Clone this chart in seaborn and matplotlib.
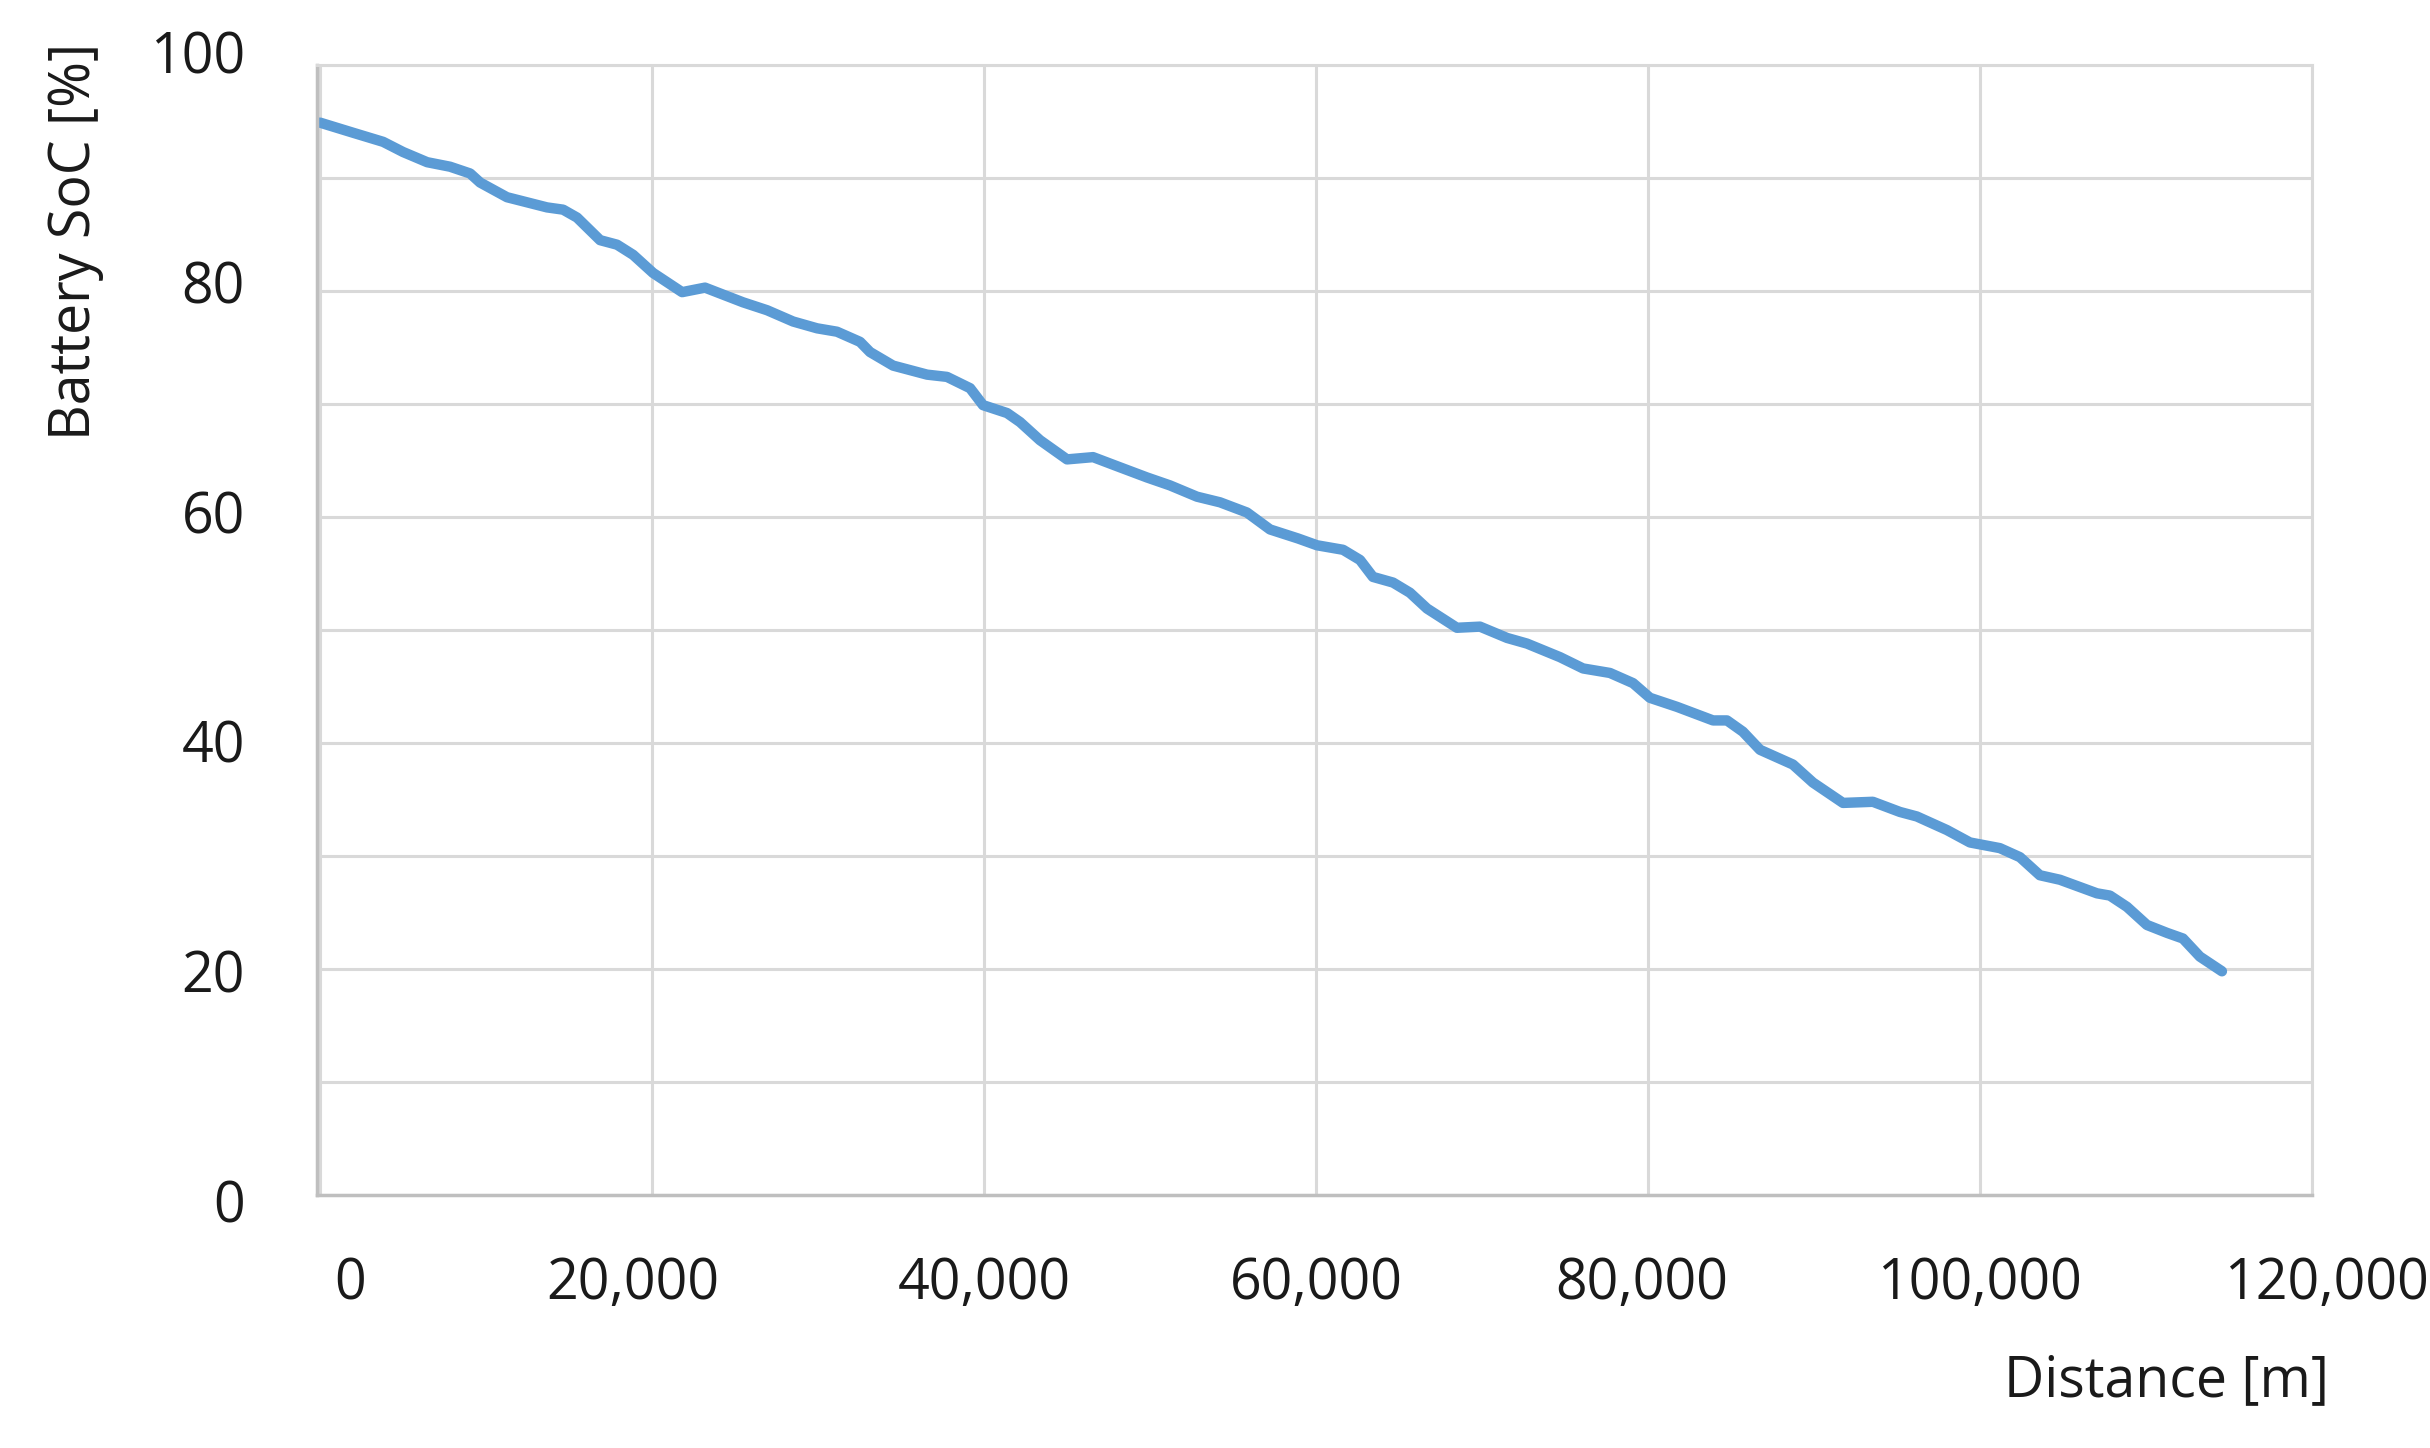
import numpy as np
import pandas as pd
import matplotlib
matplotlib.use("Agg")
import matplotlib.pyplot as plt
import seaborn as sns
from matplotlib.transforms import ScaledTranslation
from matplotlib.ticker import FuncFormatter, MultipleLocator

# Battery state of charge along the route
distance_m = [0, 2000, 3800, 5000, 6450, 7830, 9040, 9640, 11260, 13670,
              14640, 15480, 16870, 17890, 18860, 20060, 21810, 23190, 25480, 26930,
              28500, 29940, 31140, 32530, 33130, 34520, 36570, 37770, 39160, 39940,
              41390, 42170, 43370, 45000, 46570, 48190, 49820, 51200, 52830, 54220,
              55840, 57230, 58920, 60060, 61630, 62650, 63430, 64640, 65660, 66690,
              68490, 69880, 71510, 72710, 74700, 76090, 77710, 79100, 80120, 81750,
              83920, 84760, 85720, 86750, 88730, 89940, 91750, 93550, 95180, 96200,
              98010, 99400, 101200, 102410, 103610, 104820, 107050, 107830, 108860, 110060,
              111270, 112230, 113250, 114580]
soc_pct = [94.9, 94.0, 93.2, 92.3, 91.4, 91.0, 90.4, 89.6, 88.3, 87.4,
           87.2, 86.5, 84.5, 84.1, 83.2, 81.6, 79.9, 80.3, 79.0, 78.3,
           77.3, 76.7, 76.4, 75.5, 74.6, 73.4, 72.6, 72.4, 71.4, 69.9,
           69.2, 68.4, 66.8, 65.1, 65.3, 64.4, 63.5, 62.8, 61.8, 61.3,
           60.4, 58.9, 58.1, 57.5, 57.1, 56.2, 54.7, 54.2, 53.3, 51.9,
           50.2, 50.3, 49.3, 48.8, 47.6, 46.6, 46.2, 45.3, 44.0, 43.2,
           42.0, 42.0, 41.0, 39.4, 38.1, 36.5, 34.7, 34.8, 33.9, 33.5,
           32.3, 31.2, 30.7, 29.9, 28.3, 27.9, 26.7, 26.5, 25.5, 23.9,
           23.2, 22.7, 21.1, 19.8]

x_ticks = [0, 20000, 40000, 60000, 80000, 100000, 120000]
y_ticks = [0, 20, 40, 60, 80, 100]

df = pd.DataFrame({"Distance [m]": distance_m, "Battery SoC [%]": soc_pct})

sns.set_theme(style="white")
plt.rcParams["font.family"] = ["Open Sans", "DejaVu Sans"]

fig = plt.figure(figsize=(24.3, 14.48), dpi=100)
ax = fig.add_axes([0.1305, 0.1747, 0.8209, 0.7804])

sns.lineplot(data=df, x="Distance [m]", y="Battery SoC [%]", ax=ax,
             color="#5B9BD5", linewidth=7.5, estimator=None)

ax.set_xlim(-180, 120000)
ax.set_ylim(0, 100)
ax.set_xticks(x_ticks)
ax.set_yticks(y_ticks)
ax.yaxis.set_minor_locator(MultipleLocator(10))
ax.xaxis.set_major_formatter(FuncFormatter(lambda v, p: f"{int(v):,}"))

ax.grid(True, which="both", color="#d9d9d9", linewidth=2.2)
ax.set_axisbelow(True)
ax.tick_params(axis="both", which="both", length=0, labelsize=40,
               labelcolor="#1a1a1a")
ax.tick_params(axis="x", pad=44)
ax.tick_params(axis="y", pad=52)

for side in ["top", "right"]:
    ax.spines[side].set_color("#d9d9d9")
    ax.spines[side].set_linewidth(2.2)
for side in ["left", "bottom"]:
    ax.spines[side].set_color("#bfbfbf")
    ax.spines[side].set_linewidth(2.5)

# nudge labels the way they sit in the original (pixels at 100 dpi)
fig.canvas.draw()
for val, lab in zip(y_ticks, ax.get_yticklabels()):
    dy = -6 + val * 0.19
    lab.set_transform(lab.get_transform() + ScaledTranslation(0, dy / 100, fig.dpi_scale_trans))
x_nudge = {0: 30, 20000: -19, 80000: -6, 120000: 15}
for val, lab in zip(x_ticks, ax.get_xticklabels()):
    dx = x_nudge.get(val, 0)
    lab.set_transform(lab.get_transform() + ScaledTranslation(dx / 100, 0, fig.dpi_scale_trans))

ax.set_xlabel("Distance [m]", fontsize=40, color="#1a1a1a", va="center")
ax.xaxis.set_label_coords(0.927, -0.165)
ax.set_ylabel("Battery SoC [%]", fontsize=40, color="#1a1a1a", va="center")
ax.yaxis.set_label_coords(-0.121, 0.844)

fig.savefig("out.png", dpi=100, facecolor="white")
